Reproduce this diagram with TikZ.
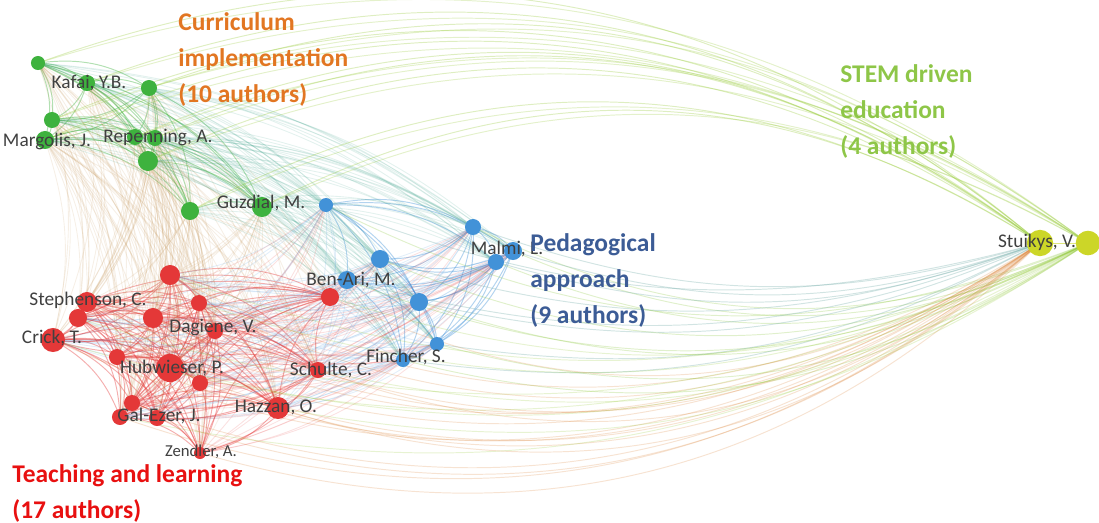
\documentclass[tikz,border=0pt]{standalone}
\usepackage{fontspec}
\setmainfont{Carlito}
\usepackage{tikz}
\usetikzlibrary{positioning}
\definecolor{vgreen}{RGB}{62,178,62}
\definecolor{vred}{RGB}{228,56,56}
\definecolor{vblue}{RGB}{66,146,216}
\definecolor{vyellow}{RGB}{204,214,40}
\definecolor{vmix}{RGB}{196,150,90}
\definecolor{curcol}{RGB}{226,118,34}
\definecolor{stemcol}{RGB}{142,198,72}
\definecolor{pedcol}{RGB}{60,92,150}
\definecolor{teachcol}{RGB}{232,16,16}
\tikzset{author/.style={circle, inner sep=0pt, draw=none},
  link/.style={line width=0.55pt, opacity=0.4},
  farlink/.style={line width=0.5pt, opacity=0.15},
  namelabel/.style={font=\fontsize{11}{12}\selectfont, text=black!75, inner sep=1pt},
  clusterlabel/.style={font=\bfseries\fontsize{14.5}{20.5}\selectfont, align=left, anchor=north west, inner sep=0pt}}

\begin{document}
\begin{tikzpicture}[x=0.02cm, y=-0.02cm]
\clip (0,0) rectangle (1099,522);
% Authors
\foreach \n/\x/\y/\s in {g1/38/63/7, g2/87/83/8, g3/149/88/8, g4/52/120/8, g5/45/140/9,
    g6/135/137/8, g7/155/138/8, g8/148/161/10, g9/190/211/9, g10/262/207/10}
  \coordinate (\n) at (\x,\y);
\foreach \n/\x/\y/\s in {b1/326/205/7, b2/473/227/8, b3/513/251/9, b4/496/262/8, b5/380/259/9,
    b6/347/280/9, b7/419/302/9, b8/437/344/7, b9/403/360/7}
  \coordinate (\n) at (\x,\y);
\foreach \n/\x/\y/\s in {r1/170/275/10, r2/87/302/10, r3/78/318/9, r4/153/318/10, r5/199/303/8,
    r6/215/331/8, r7/53/340/12, r8/117/357/8, r9/170/368/14, r10/200/383/8, r11/318/370/8,
    r12/132/403/8, r13/120/417/8, r14/157/418/8, r15/278/408/11, r16/200/453/6, r17/330/297/9}
  \coordinate (\n) at (\x,\y);
\coordinate (y1) at (1040,243);
\coordinate (y2) at (1088,243);

% Links inside the clusters
\foreach \i in {1,...,9}{
  \pgfmathtruncatemacro\k{\i+1}
  \foreach \j in {\k,...,10}
    \draw[link, vgreen] (g\i) to[bend left=20] (g\j);
}
\foreach \i in {1,...,8}{
  \pgfmathtruncatemacro\k{\i+1}
  \foreach \j in {\k,...,9}
    \draw[link, vblue] (b\i) to[bend left=20] (b\j);
}
\foreach \i in {1,...,16}{
  \pgfmathtruncatemacro\k{\i+1}
  \foreach \j in {\k,...,17}
    \draw[link, vred] (r\i) to[bend left=20] (r\j);
}

% Links between the clusters
\foreach \i in {1,...,10}
  \foreach \j in {1,...,17}
    \draw[farlink, vmix] (g\i) to[bend left=16] (r\j);
\foreach \i in {1,...,10}
  \foreach \j in {1,...,9}
    \draw[farlink, vgreen!50!vblue] (g\i) to[bend left=16] (b\j);
\foreach \i in {1,...,9}
  \foreach \j in {1,...,17}{
    \ifodd\j \def\ec{vblue}\else \def\ec{vred}\fi
    \draw[farlink, \ec] (b\i) to[bend left=16] (r\j);
  }

% Long links to Stuikys
\foreach \i in {1,...,10}{
  \draw[link, opacity=0.3, vgreen!40!vyellow] (g\i) to[bend left=30] (y1);
  \draw[link, opacity=0.25, vgreen!40!vyellow] (g\i) to[bend left=27] (y2);
}
\foreach \i in {1,...,9}{
  \draw[link, opacity=0.3, vblue!70!vyellow] (b\i) to[bend right=18] (y1);
  \draw[link, opacity=0.25, vgreen!50!vyellow] (b\i) to[bend right=24] (y2);
}
\foreach \i in {1,...,17}{
  \draw[link, opacity=0.22, vred!55!vyellow] (r\i) to[bend right=30] (y1);
  \ifodd\i \draw[link, opacity=0.22, vgreen!40!vyellow] (r\i) to[bend right=22] (y2);\fi
}
\draw[link, vyellow, opacity=0.6] (y1) -- (y2);

% Nodes
\foreach \n/\x/\y/\s in {g1/38/63/7, g2/87/83/8, g3/149/88/8, g4/52/120/8, g5/45/140/9,
    g6/135/137/8, g7/155/138/8, g8/148/161/10, g9/190/211/9, g10/262/207/10}
  \node[author, fill=vgreen, minimum size=1.14*\s pt] (n\n) at (\n) {};
\foreach \n/\x/\y/\s in {b1/326/205/7, b2/473/227/8, b3/513/251/9, b4/496/262/8, b5/380/259/9,
    b6/347/280/9, b7/419/302/9, b8/437/344/7, b9/403/360/7}
  \node[author, fill=vblue, minimum size=1.14*\s pt] (n\n) at (\n) {};
\foreach \n/\x/\y/\s in {r1/170/275/10, r2/87/302/10, r3/78/318/9, r4/153/318/10, r5/199/303/8,
    r6/215/331/8, r7/53/340/12, r8/117/357/8, r9/170/368/14, r10/200/383/8, r11/318/370/8,
    r12/132/403/8, r13/120/417/8, r14/157/418/8, r15/278/408/11, r16/200/453/6, r17/330/297/9}
  \node[author, fill=vred, minimum size=1.14*\s pt] (n\n) at (\n) {};
\node[author, fill=vyellow, minimum size=15pt] (ny1) at (y1) {};
\node[author, fill=vyellow, minimum size=14pt] (ny2) at (y2) {};

% Author names
\node[namelabel] (lkafai) at (89,83) {Kafai, Y.B.};
\node[namelabel, anchor=east] (lmargolis) at (93,141) {Margolis, J.};
\node[namelabel] (lrepenning) at (158,138) {Repenning, A.};
\node[namelabel] (lguzdial) at (261,203) {Guzdial, M.};
\node[namelabel] (lmalmi) at (507,249) {Malmi, L.};
\node[namelabel] (lbenari) at (351,280) {Ben-Ari, M.};
\node[namelabel] (lstephenson) at (88,300) {Stephenson, C.};
\node[namelabel] (lcrick) at (52,338) {Crick, T.};
\node[namelabel] (ldagiene) at (213,328) {Dagiene, V.};
\node[namelabel] (lhubwieser) at (172,368) {Hubwieser, P.};
\node[namelabel] (lschulte) at (331,370) {Schulte, C.};
\node[namelabel] (lfincher) at (406,357) {Fincher, S.};
\node[namelabel] (lgalezer) at (159,416) {Gal-Ezer, J.};
\node[namelabel] (lhazzan) at (276,407) {Hazzan, O.};
\node[namelabel, font=\fontsize{9.5}{11}\selectfont] (lzendler) at (201,452) {Zendler, A.};
\node[namelabel] (lstuikys) at (1037,242) {Stuikys, V.};

% Cluster names
\node[clusterlabel, text=curcol] (curriculum) at (178,12) {Curriculum\\implementation\\(10 authors)};
\node[clusterlabel, text=stemcol] (stem) at (840,64) {STEM driven\\education\\(4 authors)};
\node[clusterlabel, text=pedcol] (pedagogical) at (530,233) {Pedagogical\\approach\\(9 authors)};
\node[clusterlabel, text=teachcol] (teaching) at (12,464) {Teaching and learning\\(17 authors)};
\end{tikzpicture}
\end{document}
